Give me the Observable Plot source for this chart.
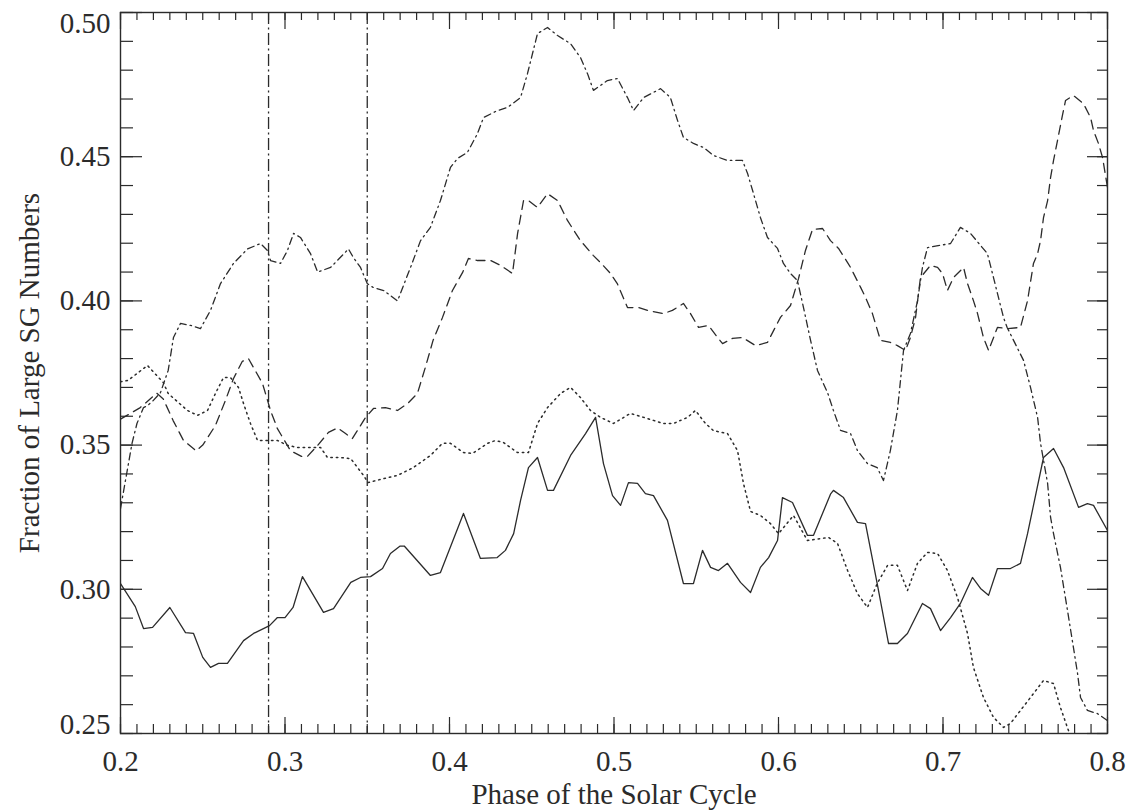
<!DOCTYPE html>
<html>
<head>
<meta charset="utf-8">
<script src="https://cdn.jsdelivr.net/npm/d3@7"></script>
<script src="https://cdn.jsdelivr.net/npm/@observablehq/plot@0.6"></script>
<style>
  body { margin: 0; background: #fff; }
  #chart svg { display: block; }
</style>
</head>
<body>
<div id="chart"></div>
<script>
// Fraction of large supergranule numbers versus solar-cycle phase, four samples.
// Each series is a list of [phase, fraction] pairs.
const solid = [
  [0.200,0.302],[0.209,0.294],[0.214,0.2864],[0.2195,0.2868],[0.230,0.2937],[0.2395,0.285],
  [0.2444,0.2847],[0.250,0.2764],[0.2547,0.2729],[0.2596,0.2743],[0.265,0.2743],[0.2748,0.2822],
  [0.2809,0.2847],[0.2906,0.2874],[0.2954,0.2902],[0.300,0.2902],[0.3049,0.2937],[0.3106,0.3044],
  [0.3234,0.2920],[0.3295,0.2933],[0.340,0.3024],[0.3459,0.3041],[0.352,0.3044],[0.3593,0.3072],
  [0.3641,0.3124],[0.370,0.3150],[0.3725,0.3150],[0.3884,0.3048],[0.3945,0.3058],[0.4085,0.3263],
  [0.4188,0.3107],[0.429,0.3110],[0.434,0.3135],[0.439,0.3193],[0.4432,0.3308],[0.448,0.3422],
  [0.4535,0.3457],[0.4596,0.3343],[0.4632,0.3343],[0.4736,0.3464],[0.4827,0.3540],[0.4888,0.3596],
  [0.4936,0.3436],[0.4991,0.3325],[0.504,0.3291],[0.5088,0.3370],[0.5143,0.3367],[0.5191,0.3332],
  [0.524,0.3325],[0.5325,0.3239],[0.5422,0.3020],[0.5483,0.3020],[0.5538,0.3135],[0.5587,0.3076],
  [0.5635,0.3065],[0.569,0.3090],[0.5769,0.3024],[0.583,0.2989],[0.589,0.3076],[0.594,0.3110],
  [0.5994,0.3169],[0.6024,0.3318],[0.6085,0.3301],[0.6176,0.3187],[0.6213,0.3187],[0.6316,0.3330],
  [0.6334,0.3343],[0.6395,0.3318],[0.648,0.3232],[0.6529,0.3228],[0.660,0.3020],[0.6669,0.2812],
  [0.6723,0.2812],[0.6784,0.2847],[0.6875,0.2951],[0.6924,0.2933],[0.6985,0.2857],[0.7046,0.2902],
  [0.7106,0.2951],[0.7179,0.3041],[0.7228,0.3003],[0.7277,0.2979],[0.7331,0.3072],[0.741,0.3072],
  [0.7471,0.3090],[0.7514,0.3193],[0.7611,0.3457],[0.7672,0.3488],[0.7733,0.3422],[0.7824,0.3284],
  [0.7878,0.3297],[0.7915,0.3291],[0.800,0.3204]
];

const dotted = [
  [0.200,0.372],[0.2045,0.3724],[0.2164,0.3776],[0.226,0.3717],[0.229,0.3679],[0.2407,0.3620],
  [0.2468,0.3603],[0.2529,0.3620],[0.2577,0.3679],[0.2626,0.3734],[0.2669,0.3734],[0.2717,0.3700],
  [0.2748,0.3644],[0.279,0.3575],[0.2833,0.3516],[0.2954,0.3516],[0.3015,0.3499],[0.3076,0.3492],
  [0.3216,0.3492],[0.3258,0.3457],[0.3337,0.3457],[0.340,0.3453],[0.3441,0.3422],[0.3477,0.3395],
  [0.3505,0.3370],[0.360,0.3384],[0.3684,0.3395],[0.378,0.3422],[0.3884,0.3464],[0.3957,0.3506],
  [0.4006,0.3506],[0.4085,0.3474],[0.414,0.3471],[0.4231,0.3506],[0.428,0.3516],[0.4328,0.3509],
  [0.4413,0.3474],[0.448,0.3474],[0.4535,0.3575],[0.4596,0.3630],[0.4675,0.3679],[0.4736,0.3700],
  [0.4796,0.3665],[0.4857,0.3620],[0.4918,0.3596],[0.4997,0.3575],[0.510,0.3610],[0.5204,0.3592],
  [0.530,0.3575],[0.5362,0.3575],[0.5447,0.3596],[0.5495,0.3620],[0.5556,0.3575],[0.5605,0.3550],
  [0.569,0.3540],[0.5751,0.3481],[0.5787,0.3367],[0.583,0.3270],[0.589,0.3256],[0.5951,0.3228],
  [0.600,0.3193],[0.6091,0.3256],[0.6176,0.3169],[0.6304,0.3180],[0.6359,0.3159],[0.642,0.3065],
  [0.648,0.2985],[0.6541,0.2937],[0.660,0.3020],[0.6663,0.3083],[0.6723,0.3083],[0.6784,0.2996],
  [0.6845,0.3090],[0.6906,0.3128],[0.6967,0.3124],[0.7027,0.3065],[0.7088,0.2972],[0.7149,0.2847],
  [0.7185,0.2729],[0.7246,0.2625],[0.7307,0.2556],[0.7368,0.2521],[0.741,0.2535],[0.7471,0.2580],
  [0.7532,0.2625],[0.7611,0.2684],[0.7672,0.2673],[0.7714,0.2590],[0.7763,0.2510],[0.780,0.2440]
];

const dashed = [
  [0.200,0.359],[0.212,0.363],[0.222,0.368],[0.226,0.366],[0.232,0.3585],[0.2383,0.3516],
  [0.246,0.348],[0.250,0.350],[0.2577,0.3568],[0.2638,0.3655],[0.2687,0.3731],[0.274,0.3790],
  [0.2778,0.3800],[0.2863,0.3714],[0.2912,0.3620],[0.2954,0.3557],[0.3033,0.3481],[0.310,0.3461],
  [0.3137,0.3461],[0.320,0.3500],[0.3264,0.3544],[0.332,0.3560],[0.3368,0.3540],[0.341,0.3523],
  [0.349,0.3596],[0.3538,0.3627],[0.361,0.3630],[0.3684,0.3620],[0.3745,0.3644],[0.3805,0.3679],
  [0.3853,0.3769],[0.390,0.3863],[0.3957,0.3942],[0.4018,0.4036],[0.4079,0.4098],[0.4115,0.4147],
  [0.417,0.4140],[0.425,0.4140],[0.431,0.4123],[0.4383,0.4095],[0.4414,0.4234],[0.445,0.4348],
  [0.448,0.4348],[0.4535,0.4324],[0.4596,0.4372],[0.4657,0.4348],[0.4717,0.4279],[0.4796,0.4209],
  [0.4875,0.4157],[0.4918,0.4133],[0.4979,0.4095],[0.502,0.4060],[0.5082,0.3977],[0.515,0.3977],
  [0.5204,0.3967],[0.530,0.3956],[0.5355,0.3967],[0.5422,0.3991],[0.5465,0.3956],[0.5514,0.3908],
  [0.5574,0.3915],[0.563,0.3873],[0.566,0.3852],[0.572,0.3870],[0.5781,0.3873],[0.586,0.3845],
  [0.5933,0.3856],[0.597,0.3897],[0.6012,0.3943],[0.6073,0.3984],[0.6122,0.4078],[0.6164,0.4175],
  [0.6207,0.4248],[0.6268,0.4251],[0.6316,0.4209],[0.6365,0.4182],[0.642,0.4133],[0.6438,0.4116],
  [0.650,0.4046],[0.6529,0.4012],[0.6571,0.3956],[0.662,0.3863],[0.668,0.3856],[0.6723,0.3845],
  [0.6772,0.3828],[0.6802,0.3873],[0.6833,0.3942],[0.6863,0.4081],[0.6924,0.4123],[0.6967,0.4116],
  [0.6997,0.4095],[0.7027,0.4036],[0.7064,0.4081],[0.7125,0.4116],[0.7149,0.4060],[0.7185,0.4001],
  [0.721,0.3956],[0.7246,0.3873],[0.7277,0.3828],[0.7331,0.3908],[0.7392,0.3904],[0.7471,0.3908],
  [0.7514,0.4001],[0.755,0.4130],[0.7575,0.4164],[0.7593,0.4209],[0.7611,0.4289],[0.7636,0.4348],
  [0.7654,0.4428],[0.7672,0.4487],[0.7696,0.4556],[0.7726,0.4643],[0.7745,0.4695],[0.7793,0.4712],
  [0.7854,0.4684],[0.7897,0.4636],[0.7915,0.4591],[0.7945,0.4546],[0.797,0.4497],[0.800,0.4393]
];

const dashDot = [
  [0.200,0.328],[0.207,0.3506],[0.210,0.3575],[0.214,0.3630],[0.2164,0.3637],[0.220,0.3655],
  [0.2243,0.3682],[0.229,0.3759],[0.2322,0.3873],[0.2365,0.3922],[0.2426,0.3915],[0.2486,0.3904],
  [0.2547,0.3967],[0.2608,0.4060],[0.2687,0.4130],[0.2772,0.4180],[0.2851,0.4199],[0.2893,0.4175],
  [0.2912,0.4140],[0.2973,0.4130],[0.3015,0.4175],[0.3052,0.4234],[0.3094,0.4220],[0.3155,0.4164],
  [0.3198,0.4100],[0.3277,0.4116],[0.3386,0.4180],[0.3416,0.4150],[0.3459,0.4116],[0.350,0.4060],
  [0.3538,0.4046],[0.360,0.4036],[0.3684,0.4000],[0.3763,0.4116],[0.3824,0.4209],[0.3884,0.4255],
  [0.3945,0.4348],[0.4006,0.4463],[0.4049,0.4494],[0.4109,0.4515],[0.417,0.4580],[0.4207,0.4636],
  [0.4292,0.4660],[0.4353,0.4671],[0.4432,0.4705],[0.4474,0.4788],[0.4535,0.4927],[0.4596,0.4948],
  [0.4657,0.4920],[0.4736,0.4892],[0.4796,0.4844],[0.4839,0.4788],[0.4875,0.4730],[0.496,0.4764],
  [0.5021,0.4771],[0.5082,0.4705],[0.5119,0.4660],[0.518,0.4705],[0.5283,0.4736],[0.5343,0.4705],
  [0.5386,0.4626],[0.5422,0.4567],[0.5483,0.4546],[0.5544,0.4532],[0.5605,0.4504],[0.569,0.4487],
  [0.5781,0.4487],[0.5812,0.4442],[0.5848,0.4372],[0.589,0.4289],[0.5933,0.4220],[0.5994,0.4182],
  [0.603,0.4130],[0.6073,0.4095],[0.6115,0.4071],[0.6152,0.3977],[0.6195,0.3863],[0.6237,0.3759],
  [0.630,0.3679],[0.6334,0.3620],[0.6377,0.3551],[0.6438,0.3540],[0.648,0.3481],[0.6541,0.3436],
  [0.660,0.3422],[0.6638,0.3377],[0.668,0.3481],[0.6723,0.3620],[0.676,0.3828],[0.6802,0.3887],
  [0.6845,0.4000],[0.6875,0.4116],[0.6906,0.4185],[0.7046,0.4199],[0.7106,0.4255],[0.7167,0.4234],
  [0.727,0.4164],[0.7307,0.4081],[0.7331,0.4026],[0.7368,0.3942],[0.739,0.3908],[0.749,0.3793],
  [0.7532,0.3700],[0.7575,0.3596],[0.7593,0.3506],[0.7636,0.3367],[0.7654,0.3249],[0.7672,0.3193],
  [0.7714,0.3076],[0.7757,0.2926],[0.7793,0.2798],[0.7818,0.2708],[0.7836,0.2625],[0.7878,0.2580],
  [0.7939,0.2569],[0.800,0.2545]
];

// Phase boundaries marked by vertical dash-dot rules
const phaseMarks = [0.29, 0.35];

// Axis ticks and their labels
const xTicks = [0.2, 0.3, 0.4, 0.5, 0.6, 0.7, 0.8];
const xTickLabels = ["0.2", "0.3", "0.4", "0.5", "0.6", "0.7", "0.8"];
const yTicks = [0.25, 0.30, 0.35, 0.40, 0.45, 0.50];
const yTickLabels = ["0.25", "0.30", "0.35", "0.40", "0.45", "0.50"];
const xMinor = d3.range(20, 81).map(i => i / 100);
const yMinor = d3.range(25, 51).map(i => i / 100);

const W = 1131, H = 812;
const mL = 120, mR = 24, mT = 12, mB = 79;
const plotW = W - mL - mR, plotH = H - mT - mB;

const ink = "#2b2b2b";
const font = "'Liberation Serif', 'Times New Roman', serif";
const labelSize = 29;
const titleSize = 29;

const lineOpts = {x: d => d[0], y: d => d[1], stroke: ink, strokeWidth: 1.3, clip: true, curve: "linear"};

const yMid = yTicks.map((v, i) => ({v, t: yTickLabels[i]}));

const chart = Plot.plot({
  width: W,
  height: H,
  marginLeft: mL,
  marginRight: mR,
  marginTop: mT,
  marginBottom: mB,
  style: {fontFamily: font, background: "#fff", color: ink},
  x: {domain: [0.2, 0.8], axis: null},
  y: {domain: [0.25, 0.5], axis: null},
  marks: [
    // data curves
    Plot.line(solid, {...lineOpts}),
    Plot.line(dotted, {...lineOpts, strokeDasharray: "1.5,4", strokeWidth: 1.5}),
    Plot.line(dashed, {...lineOpts, strokeDasharray: "9,6"}),
    Plot.line(dashDot, {...lineOpts, strokeDasharray: "7,4,1.5,4"}),

    // phase boundaries
    Plot.ruleX(phaseMarks, {x: d => d, stroke: ink, strokeWidth: 1.3, strokeDasharray: "12,3.5,2,3.5"}),

    // inward ticks on all four sides
    Plot.tickX(xMinor, {x: d => d, stroke: ink, strokeWidth: 1.2, insetTop: plotH - 9}),
    Plot.tickX(xTicks, {x: d => d, stroke: ink, strokeWidth: 1.2, insetTop: plotH - 16}),
    Plot.tickX(xMinor, {x: d => d, stroke: ink, strokeWidth: 1.2, insetBottom: plotH - 8}),
    Plot.tickX(xTicks, {x: d => d, stroke: ink, strokeWidth: 1.2, insetBottom: plotH - 17}),
    Plot.tickY(yMinor, {y: d => d, stroke: ink, strokeWidth: 1.2, insetRight: plotW - 13}),
    Plot.tickY(yTicks, {y: d => d, stroke: ink, strokeWidth: 1.2, insetRight: plotW - 22}),
    Plot.tickY(yMinor, {y: d => d, stroke: ink, strokeWidth: 1.2, insetLeft: plotW - 10}),
    Plot.tickY(yTicks, {y: d => d, stroke: ink, strokeWidth: 1.2, insetLeft: plotW - 20}),

    Plot.frame({stroke: ink, strokeWidth: 1.4}),

    // tick labels
    Plot.text(xTicks, {x: d => d, text: (d, i) => xTickLabels[i], frameAnchor: "bottom",
      lineAnchor: "bottom", dy: 37, fontSize: labelSize, fill: ink}),
    Plot.text(yMid.slice(1, -1), {y: "v", text: "t", frameAnchor: "left", textAnchor: "end",
      lineAnchor: "middle", dx: -10, fontSize: labelSize, fill: ink}),
    Plot.text(yMid.slice(-1), {y: "v", text: "t", frameAnchor: "left", textAnchor: "end",
      lineAnchor: "top", dx: -10, dy: 0, fontSize: labelSize, fill: ink}),
    Plot.text(yMid.slice(0, 1), {y: "v", text: "t", frameAnchor: "left", textAnchor: "end",
      lineAnchor: "bottom", dx: -10, dy: 0, fontSize: labelSize, fill: ink}),

    // axis titles
    Plot.text(["Phase of the Solar Cycle"], {frameAnchor: "bottom", textAnchor: "middle",
      lineAnchor: "bottom", dy: 70, fontSize: titleSize, fill: ink}),
    Plot.text(["Fraction of Large SG Numbers"], {frameAnchor: "left", textAnchor: "middle",
      lineAnchor: "bottom", rotate: -90, dx: -82, fontSize: titleSize, fill: ink})
  ]
});

document.getElementById("chart").appendChild(chart);
</script>
</body>
</html>
